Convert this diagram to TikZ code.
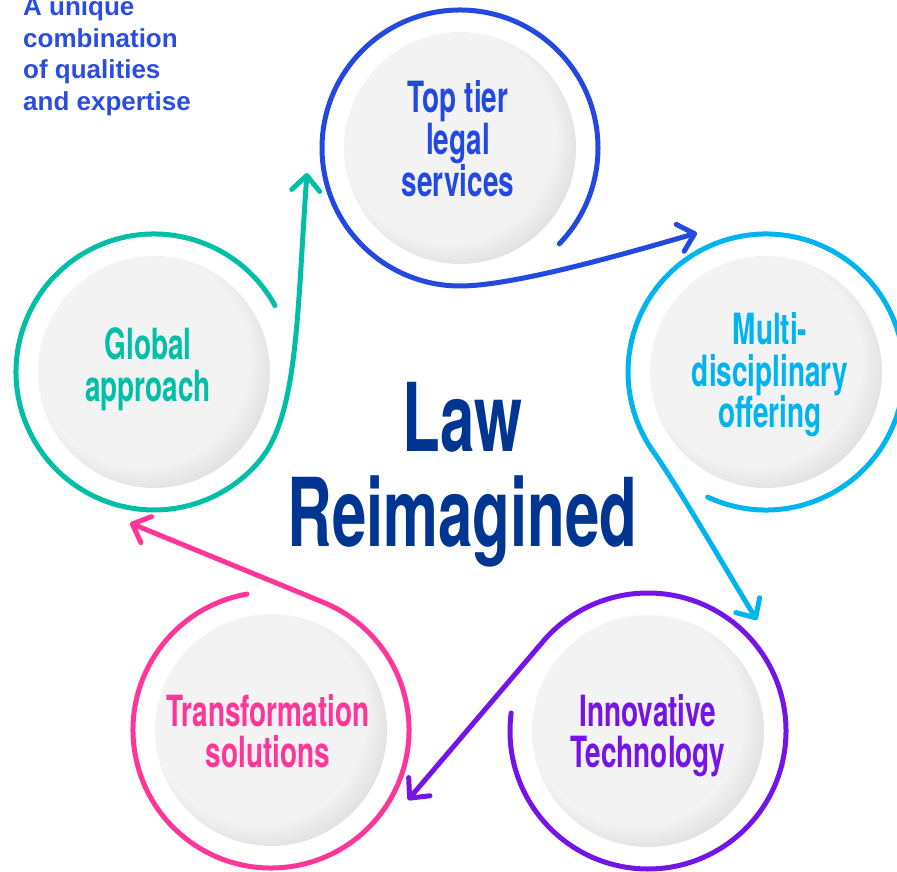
\documentclass[tikz,border=0pt]{standalone}
\usepackage{fontspec}
\usetikzlibrary{arrows.meta,calc}
\newfontfamily\condfont[FakeStretch=0.65]{TeX Gyre Heros}
\newfontfamily\headfont{Liberation Sans}
\definecolor{blueC}{HTML}{2349E0}
\definecolor{cyanC}{HTML}{00B4EF}
\definecolor{purpleC}{HTML}{7414E6}
\definecolor{pinkC}{HTML}{FF3699}
\definecolor{tealC}{HTML}{00BFA6}
\definecolor{navyC}{HTML}{003591}
\definecolor{headC}{HTML}{2A4DE0}
\definecolor{discA}{HTML}{F3F3F3}
\definecolor{discC}{HTML}{CFCFCF}
\pgfdeclareradialshading{discshade}{\pgfpoint{-5bp}{5bp}}{color(0bp)=(discA); color(23bp)=(discA); color(33bp)=(discC); color(50bp)=(discC)}
\begin{document}
\begin{tikzpicture}[x=1pt,y=1pt,
  disc/.style={circle, minimum size=232pt, inner sep=0pt, shade, shading=discshade},
  ring/.style={line width=5pt, line cap=round, line join=round},
  tipA/.style={-{Straight Barb[length=15pt,width=28pt,round]}},
  lbl/.style={anchor=base, inner sep=0pt, font=\condfont\bfseries\fontsize{43}{42}\selectfont},
  ttl/.style={anchor=base, inner sep=0pt, text=navyC, font=\condfont\bfseries\fontsize{95}{95}\selectfont},
  head/.style={anchor=base west, inner sep=0pt, text=headC, font=\headfont\bfseries\fontsize{26}{31}\selectfont}]
\useasboundingbox (0,0) rectangle (897,872);
% discs
\node[disc] (c1) at (460,724) {};
\node[disc] (c2) at (766,500) {};
\node[disc] (c3) at (648,141) {};
\node[disc] (c4) at (271,142) {};
\node[disc] (c5) at (154,500) {};
% arrow ends
\coordinate (tip1) at (697,639);
\coordinate (tip2) at (757,252);
\coordinate (tip3) at (408,72);
\coordinate (tip4) at (130,349);
\coordinate (tip5) at (307,699);
% rings with arrows
\draw[ring, blueC, tipA] ($(c1)+(-44:138pt)$) arc[start angle=-44, end angle=270, radius=138pt]
  .. controls ($(c1)+(50pt,-138pt)$) and ($(tip1)+(-86pt,-25pt)$) .. (tip1);
\draw[ring, cyanC, tipA] ($(c2)+(245:138pt)$) arc[start angle=245, end angle=575, radius=138pt]
  .. controls ($(c2)+(215:138pt)+(-55:50pt)$) and ($(tip2)+(122:50pt)$) .. (tip2);
\draw[ring, purpleC, tipA] ($(c3)+(172.5:138pt)$) arc[start angle=172.5, end angle=498, radius=138pt] -- (tip3);
\draw[ring, pinkC, tipA] ($(c4)+(100:138pt)$) arc[start angle=100, end angle=428, radius=138pt] -- (tip4);
\draw[ring, tealC, tipA] ($(c5)+(28.8:138pt)$) arc[start angle=28.8, end angle=320, radius=138pt]
  .. controls ($(c5)+(-40:138pt)+(50:60pt)$) and ($(tip5)+(-10pt,-139pt)$) .. (tip5);
% labels
\node[lbl, text=blueC] (l1a) at (458,759) {Top tier};
\node[lbl, text=blueC] (l1b) at (458,717) {legal};
\node[lbl, text=blueC] (l1c) at (458,675) {services};
\node[lbl, text=cyanC] (l2a) at (770,527) {Multi-};
\node[lbl, text=cyanC] (l2b) at (770,485) {disciplinary};
\node[lbl, text=cyanC] (l2c) at (770,444) {offering};
\node[lbl, text=purpleC] (l3a) at (648,145) {Innovative};
\node[lbl, text=purpleC] (l3b) at (648,104) {Technology};
\node[lbl, text=pinkC] (l4a) at (268,145) {Transformation};
\node[lbl, text=pinkC] (l4b) at (268,104) {solutions};
\node[lbl, text=tealC] (l5a) at (148,512) {Global};
\node[lbl, text=tealC] (l5b) at (148,470) {approach};
% title
\node[ttl] (law) at (462.5,420) {Law};
\node[ttl] (reim) at (462.5,325) {Reimagined};
% heading
\node[head] (h1) at (23,856) {A unique};
\node[head] (h2) at (23,824.5) {combination};
\node[head] (h3) at (23,793) {of qualities};
\node[head] (h4) at (23,761.5) {and expertise};
\end{tikzpicture}
\end{document}
